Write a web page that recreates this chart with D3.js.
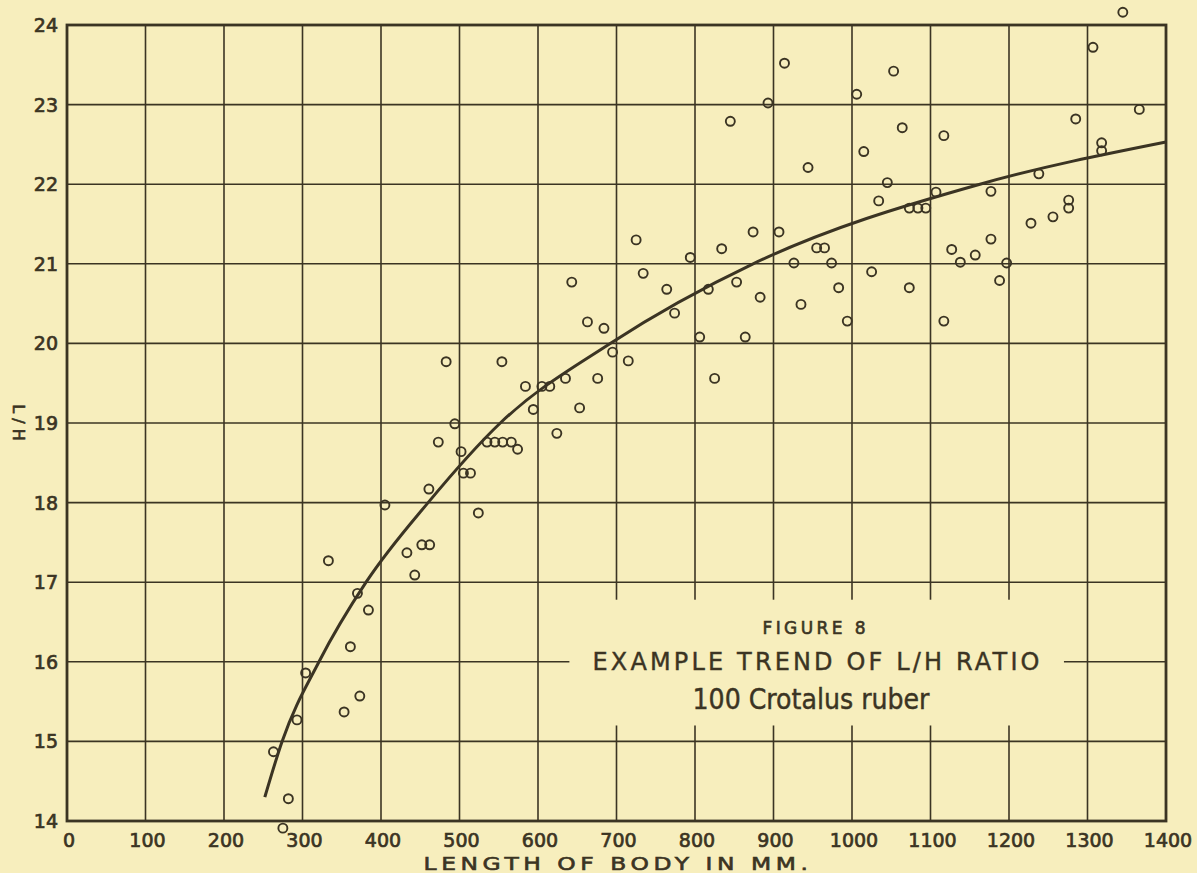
<!DOCTYPE html>
<html>
<head>
<meta charset="utf-8">
<script src="https://cdn.jsdelivr.net/npm/d3@7"></script>
<style>
  body { margin: 0; background: #f7eebd; }
  svg { display: block; }
</style>
</head>
<body>
<div id="chart-area"></div>
<script>
// body length (mm) of each snake
var lengths = [263, 282, 275, 293, 304, 353, 373, 361, 370, 384,
    333, 405, 433, 443, 452, 462, 461, 473, 483, 494,
    502, 505, 514, 524, 535, 545, 555, 566, 574, 554,
    584, 594, 605, 615, 624, 635, 653, 643, 663, 684,
    676, 695, 715, 764, 774, 817, 806, 853, 864, 883,
    825, 725, 734, 794, 834, 874, 907, 926, 845, 893,
    914, 1053, 1006, 1064, 1015, 1117, 944, 1045, 1034, 1107,
    1073, 1084, 1094, 1177, 1238, 1285, 1307, 1345, 1366, 1318,
    1318, 1276, 1276, 1256, 1228, 1177, 1197, 1188, 1157, 1138,
    1127, 1073, 1025, 983, 974, 965, 955, 935, 994, 1117];
// L/H ratio of each snake
var ratios = [14.87, 14.28, 13.91, 15.27, 15.86, 15.37, 15.57, 16.19, 16.86, 16.65,
    17.27, 17.97, 17.37, 17.09, 17.47, 17.47, 18.17, 18.76, 19.77, 18.99,
    18.64, 18.37, 18.37, 17.87, 18.76, 18.76, 18.76, 18.76, 18.67, 19.77,
    19.46, 19.17, 19.46, 19.46, 18.87, 19.56, 19.19, 20.77, 20.27, 20.19,
    19.56, 19.89, 19.78, 20.68, 20.38, 20.68, 20.08, 20.77, 20.08, 20.58,
    19.56, 21.3, 20.88, 21.08, 21.19, 21.4, 21.4, 21.01, 22.79, 23.02,
    23.52, 23.42, 23.13, 22.71, 22.41, 22.61, 22.21, 22.02, 21.79, 21.9,
    21.7, 21.7, 21.7, 21.91, 22.13, 22.82, 23.72, 24.16, 22.94, 22.52,
    22.42, 21.8, 21.7, 21.59, 21.51, 21.31, 21.01, 20.79, 21.11, 21.02,
    21.18, 20.7, 20.9, 20.7, 21.01, 21.2, 21.2, 20.49, 20.28, 20.28];

// trend curve drawn through the figure
var trendLen = [252, 274, 321, 381, 460, 552, 692, 874, 1163, 1400];
var trendRatio = [14.3, 15, 16, 17, 18, 19, 20, 21, 22, 22.53];

var xTicks = [0, 100, 200, 300, 400, 500, 600, 700, 800, 900, 1000, 1100, 1200, 1300, 1400];
var yTicks = [14, 15, 16, 17, 18, 19, 20, 21, 22, 23, 24];

var ink = "#3b3423";
var paper = "#f7eebd";

var svg = d3.select("#chart-area")
  .append("svg")
    .attr("width", 1197)
    .attr("height", 873);

svg.append("rect")
    .attr("width", 1197)
    .attr("height", 873)
    .attr("fill", paper);

var x = d3.scaleLinear()
    .domain([0, 1400])
    .range([67, 1166]);

var y = d3.scaleLinear()
    .domain([14, 24])
    .range([821, 25]);

// grid
var grid = svg.append("g");
grid.selectAll("line.v").data(xTicks).enter()
  .append("line")
    .attr("x1", (d) => x(d))
    .attr("x2", (d) => x(d))
    .attr("y1", y(24))
    .attr("y2", y(14))
    .attr("stroke", ink)
    .attr("stroke-width", 1.6);
grid.selectAll("line.h").data(yTicks).enter()
  .append("line")
    .attr("x1", x(0))
    .attr("x2", x(1400))
    .attr("y1", (d) => y(d))
    .attr("y2", (d) => y(d))
    .attr("stroke", ink)
    .attr("stroke-width", 1.6);

// blank panel for the caption
svg.append("rect")
    .attr("x", x(640))
    .attr("y", y(16.78))
    .attr("width", x(1270) - x(640))
    .attr("height", y(15.2) - y(16.78))
    .attr("fill", paper);

// frame
svg.append("rect")
    .attr("x", x(0))
    .attr("y", y(24))
    .attr("width", x(1400) - x(0))
    .attr("height", y(14) - y(24))
    .attr("fill", "none")
    .attr("stroke", ink)
    .attr("stroke-width", 2.8);

// axis labels
var font = "'DejaVu Sans', sans-serif";
var condFont = "'DejaVu Sans Condensed', 'DejaVu Sans', sans-serif";

svg.selectAll("text.xt").data(xTicks).enter()
  .append("text")
    .attr("x", (d) => x(d) + 2)
    .attr("y", 847)
    .attr("text-anchor", "middle")
    .attr("font-family", font)
    .attr("font-size", "19px")
    .attr("fill", ink)
    .attr("stroke", ink)
    .attr("stroke-width", 0.7)
    .text((d) => d);

svg.selectAll("text.yt").data(yTicks).enter()
  .append("text")
    .attr("x", 58)
    .attr("y", (d) => y(d) + 7)
    .attr("text-anchor", "end")
    .attr("font-family", font)
    .attr("font-size", "19px")
    .attr("fill", ink)
    .attr("stroke", ink)
    .attr("stroke-width", 0.7)
    .text((d) => d);

svg.append("text")
    .attr("transform", "translate(618, 870) scale(1.3, 1)")
    .attr("text-anchor", "middle")
    .attr("font-family", font)
    .attr("font-size", "18px")
    .attr("letter-spacing", "3.5px")
    .attr("fill", ink)
    .attr("stroke", ink)
    .attr("stroke-width", 0.6)
    .text("LENGTH OF BODY IN MM.");

svg.append("text")
    .attr("transform", "translate(13, 425) rotate(90)")
    .attr("text-anchor", "middle")
    .attr("font-family", font)
    .attr("font-size", "16px")
    .attr("letter-spacing", "5px")
    .attr("fill", ink)
    .attr("stroke", ink)
    .attr("stroke-width", 0.6)
    .text("L/H");

// caption
svg.append("text")
    .attr("x", 814)
    .attr("y", 634)
    .attr("text-anchor", "middle")
    .attr("font-family", font)
    .attr("font-size", "17px")
    .attr("textLength", 103)
    .attr("lengthAdjust", "spacing")
    .attr("fill", ink)
    .attr("stroke", ink)
    .attr("stroke-width", 0.6)
    .text("FIGURE 8");
svg.append("text")
    .attr("x", 816)
    .attr("y", 670)
    .attr("text-anchor", "middle")
    .attr("font-family", font)
    .attr("font-size", "24px")
    .attr("textLength", 447)
    .attr("lengthAdjust", "spacing")
    .attr("fill", ink)
    .attr("stroke", ink)
    .attr("stroke-width", 0.4)
    .text("EXAMPLE  TREND OF L/H RATIO");
svg.append("text")
    .attr("x", 811)
    .attr("y", 709)
    .attr("text-anchor", "middle")
    .attr("font-family", condFont)
    .attr("font-size", "28px")
    .attr("textLength", 237)
    .attr("lengthAdjust", "spacingAndGlyphs")
    .attr("fill", ink)
    .attr("stroke", ink)
    .attr("stroke-width", 0.4)
    .text("100 Crotalus ruber");

// trend line
var trend = trendLen.map((d, i) => [d, trendRatio[i]]);
var line = d3.line()
    .x((d) => x(d[0]))
    .y((d) => y(d[1]))
    .curve(d3.curveMonotoneX);
svg.append("path")
    .attr("d", line(trend))
    .attr("fill", "none")
    .attr("stroke", ink)
    .attr("stroke-width", 3);

// points
var pts = lengths.map((d, i) => ({len: d, ratio: ratios[i]}));
svg.selectAll("circle").data(pts).enter()
  .append("circle")
    .attr("cx", (d) => x(d.len))
    .attr("cy", (d) => y(d.ratio))
    .attr("r", 4.5)
    .attr("fill", "none")
    .attr("stroke", ink)
    .attr("stroke-width", 1.9);
</script>
</body>
</html>
